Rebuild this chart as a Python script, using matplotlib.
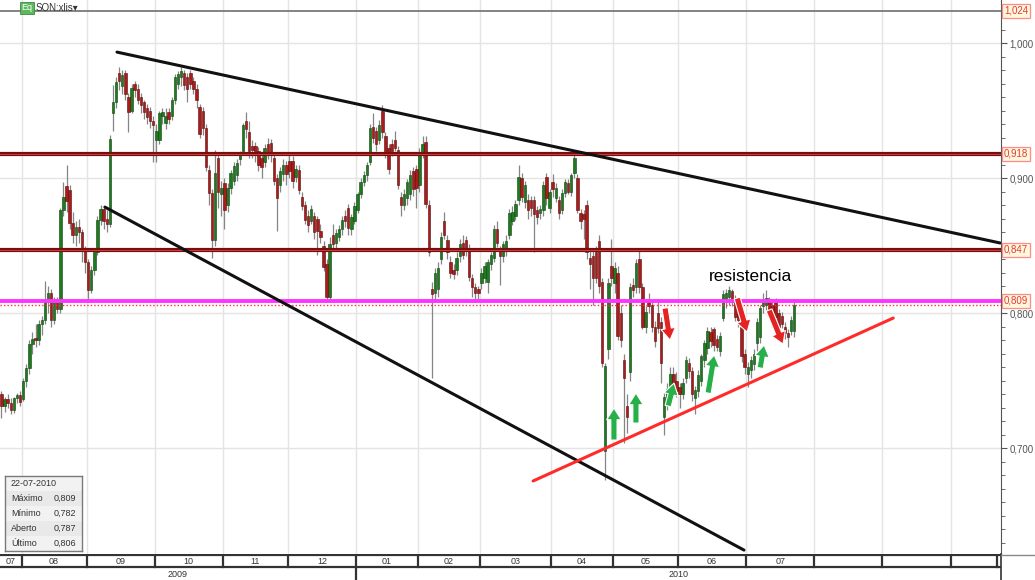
"""SON:xlis daily candles with hand-drawn trend lines and support/resistance levels."""

import matplotlib
matplotlib.use("Agg")
import matplotlib.pyplot as plt
import matplotlib.transforms as mtransforms
from matplotlib.patches import Rectangle
import numpy as np
import pandas as pd

plt.rcParams["font.family"] = ["Liberation Sans", "DejaVu Sans"]

# daily (open, high, low, close), one list per month
jul09 = [(0.740, 0.742, 0.722, 0.731), (0.731, 0.738, 0.727, 0.736), (0.736, 0.740, 0.730, 0.733),
         (0.733, 0.737, 0.725, 0.728), (0.728, 0.738, 0.726, 0.737), (0.737, 0.741, 0.733, 0.739),
         (0.739, 0.742, 0.731, 0.734)]
aug09 = [(0.736, 0.752, 0.735, 0.750), (0.750, 0.762, 0.745, 0.759), (0.759, 0.780, 0.755, 0.777),
         (0.777, 0.786, 0.770, 0.781), (0.781, 0.792, 0.775, 0.780), (0.780, 0.795, 0.776, 0.792),
         (0.792, 0.798, 0.784, 0.795), (0.795, 0.824, 0.792, 0.808), (0.808, 0.820, 0.800, 0.815),
         (0.815, 0.818, 0.790, 0.795), (0.795, 0.812, 0.792, 0.808), (0.808, 0.812, 0.800, 0.803),
         (0.803, 0.878, 0.800, 0.876), (0.876, 0.897, 0.872, 0.886), (0.894, 0.910, 0.875, 0.883),
         (0.891, 0.895, 0.862, 0.867), (0.867, 0.875, 0.852, 0.858), (0.858, 0.868, 0.850, 0.864),
         (0.864, 0.870, 0.852, 0.860), (0.860, 0.862, 0.838, 0.847), (0.847, 0.850, 0.830, 0.838)]
sep09 = [(0.838, 0.840, 0.808, 0.817), (0.817, 0.835, 0.815, 0.832), (0.832, 0.848, 0.828, 0.845),
         (0.845, 0.872, 0.843, 0.869), (0.869, 0.880, 0.865, 0.877), (0.877, 0.879, 0.862, 0.868),
         (0.870, 0.876, 0.860, 0.866), (0.866, 0.932, 0.864, 0.929), (0.948, 0.969, 0.935, 0.956),
         (0.956, 0.975, 0.952, 0.971), (0.978, 0.982, 0.965, 0.972), (0.968, 0.980, 0.962, 0.976),
         (0.978, 0.980, 0.958, 0.962), (0.960, 0.963, 0.934, 0.949), (0.950, 0.970, 0.948, 0.967),
         (0.970, 0.972, 0.960, 0.965), (0.966, 0.970, 0.955, 0.958), (0.960, 0.963, 0.948, 0.954),
         (0.956, 0.958, 0.944, 0.949), (0.952, 0.955, 0.940, 0.945), (0.950, 0.953, 0.937, 0.942),
         (0.942, 0.946, 0.912, 0.939)]
oct09 = [(0.928, 0.940, 0.912, 0.935), (0.928, 0.950, 0.925, 0.948), (0.946, 0.952, 0.940, 0.949),
         (0.941, 0.952, 0.936, 0.946), (0.949, 0.952, 0.940, 0.944), (0.946, 0.960, 0.943, 0.958),
         (0.958, 0.977, 0.955, 0.975), (0.970, 0.979, 0.966, 0.977), (0.975, 0.982, 0.968, 0.979),
         (0.978, 0.980, 0.965, 0.969), (0.975, 0.978, 0.956, 0.966), (0.978, 0.980, 0.966, 0.970),
         (0.972, 0.975, 0.962, 0.966), (0.966, 0.970, 0.952, 0.958), (0.953, 0.955, 0.930, 0.933),
         (0.950, 0.953, 0.932, 0.937), (0.937, 0.940, 0.905, 0.908), (0.906, 0.910, 0.880, 0.889),
         (0.889, 0.892, 0.841, 0.854), (0.854, 0.921, 0.850, 0.904), (0.915, 0.918, 0.878, 0.890),
         (0.888, 0.898, 0.872, 0.893)]
nov09 = [(0.896, 0.900, 0.862, 0.876), (0.880, 0.896, 0.875, 0.893), (0.893, 0.906, 0.888, 0.904),
         (0.898, 0.912, 0.895, 0.909), (0.902, 0.914, 0.898, 0.911), (0.914, 0.920, 0.910, 0.918),
         (0.920, 0.941, 0.918, 0.939), (0.942, 0.949, 0.930, 0.936), (0.934, 0.942, 0.915, 0.920),
         (0.924, 0.928, 0.915, 0.921), (0.924, 0.927, 0.912, 0.918), (0.920, 0.923, 0.905, 0.910),
         (0.915, 0.918, 0.900, 0.908), (0.912, 0.925, 0.908, 0.922), (0.925, 0.930, 0.914, 0.918),
         (0.926, 0.929, 0.912, 0.917), (0.915, 0.918, 0.895, 0.898), (0.900, 0.903, 0.861, 0.885),
         (0.895, 0.908, 0.890, 0.905), (0.903, 0.914, 0.898, 0.910), (0.910, 0.913, 0.895, 0.903)]
dec09 = [(0.913, 0.919, 0.900, 0.905), (0.913, 0.916, 0.893, 0.898), (0.901, 0.910, 0.897, 0.907),
         (0.906, 0.910, 0.888, 0.891), (0.886, 0.890, 0.876, 0.879), (0.880, 0.883, 0.866, 0.869),
         (0.872, 0.876, 0.860, 0.865), (0.868, 0.880, 0.866, 0.877), (0.872, 0.875, 0.855, 0.860),
         (0.870, 0.872, 0.843, 0.861), (0.861, 0.866, 0.852, 0.856), (0.850, 0.853, 0.831, 0.834),
         (0.836, 0.840, 0.809, 0.812), (0.812, 0.856, 0.810, 0.851), (0.858, 0.866, 0.848, 0.851),
         (0.852, 0.862, 0.848, 0.859), (0.856, 0.865, 0.853, 0.862), (0.862, 0.872, 0.858, 0.869),
         (0.872, 0.876, 0.864, 0.868), (0.878, 0.881, 0.858, 0.863), (0.862, 0.873, 0.858, 0.871),
         (0.868, 0.882, 0.866, 0.879)]
jan10 = [(0.876, 0.890, 0.874, 0.888), (0.888, 0.900, 0.885, 0.897), (0.897, 0.905, 0.894, 0.902),
         (0.902, 0.912, 0.898, 0.910), (0.912, 0.940, 0.910, 0.937), (0.938, 0.948, 0.926, 0.930),
         (0.935, 0.938, 0.920, 0.925), (0.928, 0.943, 0.925, 0.939), (0.950, 0.954, 0.930, 0.934),
         (0.931, 0.934, 0.915, 0.918), (0.922, 0.925, 0.903, 0.907), (0.925, 0.929, 0.916, 0.920),
         (0.928, 0.935, 0.920, 0.922), (0.921, 0.924, 0.892, 0.895), (0.886, 0.890, 0.872, 0.880),
         (0.880, 0.892, 0.876, 0.888), (0.885, 0.899, 0.880, 0.897), (0.888, 0.906, 0.884, 0.902),
         (0.905, 0.908, 0.887, 0.892), (0.907, 0.910, 0.878, 0.893)]
feb10 = [(0.895, 0.922, 0.890, 0.919), (0.919, 0.931, 0.915, 0.925), (0.927, 0.931, 0.878, 0.881),
         (0.880, 0.884, 0.842, 0.845), (0.818, 0.823, 0.752, 0.814), (0.815, 0.833, 0.810, 0.830),
         (0.818, 0.838, 0.812, 0.833), (0.840, 0.860, 0.836, 0.856), (0.868, 0.875, 0.855, 0.858),
         (0.854, 0.858, 0.840, 0.845), (0.838, 0.842, 0.826, 0.830), (0.832, 0.836, 0.825, 0.829),
         (0.832, 0.845, 0.828, 0.841), (0.842, 0.855, 0.838, 0.851), (0.852, 0.858, 0.840, 0.843),
         (0.854, 0.857, 0.842, 0.846), (0.848, 0.851, 0.824, 0.827), (0.826, 0.829, 0.812, 0.819),
         (0.819, 0.822, 0.810, 0.815), (0.818, 0.820, 0.809, 0.815)]
mar10 = [(0.822, 0.833, 0.818, 0.830), (0.826, 0.838, 0.822, 0.835), (0.823, 0.840, 0.815, 0.838),
         (0.836, 0.845, 0.832, 0.843), (0.841, 0.865, 0.838, 0.862), (0.862, 0.868, 0.849, 0.852),
         (0.847, 0.850, 0.821, 0.842), (0.842, 0.853, 0.838, 0.851), (0.846, 0.858, 0.842, 0.853),
         (0.858, 0.877, 0.855, 0.874), (0.868, 0.879, 0.865, 0.875), (0.872, 0.884, 0.869, 0.881),
         (0.884, 0.910, 0.880, 0.901), (0.900, 0.904, 0.882, 0.886), (0.882, 0.898, 0.878, 0.895),
         (0.884, 0.888, 0.870, 0.876), (0.884, 0.887, 0.872, 0.878), (0.884, 0.887, 0.845, 0.873),
         (0.876, 0.879, 0.866, 0.871), (0.874, 0.880, 0.870, 0.877), (0.876, 0.898, 0.872, 0.895),
         (0.901, 0.904, 0.880, 0.885), (0.878, 0.892, 0.874, 0.890)]
apr10 = [(0.897, 0.903, 0.886, 0.892), (0.885, 0.896, 0.882, 0.893), (0.884, 0.887, 0.870, 0.874),
         (0.876, 0.892, 0.873, 0.889), (0.889, 0.899, 0.886, 0.897), (0.896, 0.899, 0.888, 0.890),
         (0.890, 0.904, 0.887, 0.902), (0.904, 0.920, 0.900, 0.915), (0.900, 0.903, 0.874, 0.876),
         (0.874, 0.877, 0.862, 0.868), (0.873, 0.876, 0.855, 0.870), (0.880, 0.884, 0.840, 0.845),
         (0.841, 0.847, 0.818, 0.836), (0.842, 0.846, 0.806, 0.826), (0.845, 0.850, 0.822, 0.826),
         (0.853, 0.858, 0.815, 0.820), (0.823, 0.826, 0.760, 0.763), (0.698, 0.763, 0.676, 0.761),
         (0.773, 0.826, 0.766, 0.822), (0.835, 0.855, 0.820, 0.826)]
may10 = [(0.822, 0.838, 0.815, 0.833), (0.830, 0.835, 0.780, 0.783), (0.800, 0.806, 0.775, 0.780),
         (0.765, 0.770, 0.704, 0.752), (0.731, 0.740, 0.711, 0.723), (0.756, 0.822, 0.750, 0.819),
         (0.821, 0.826, 0.812, 0.817), (0.819, 0.840, 0.815, 0.837), (0.840, 0.847, 0.815, 0.819),
         (0.819, 0.822, 0.788, 0.790), (0.790, 0.805, 0.785, 0.801), (0.810, 0.815, 0.800, 0.805),
         (0.806, 0.810, 0.786, 0.790), (0.790, 0.794, 0.775, 0.779), (0.800, 0.808, 0.785, 0.789),
         (0.793, 0.797, 0.748, 0.763), (0.723, 0.741, 0.710, 0.738), (0.733, 0.748, 0.728, 0.744),
         (0.746, 0.760, 0.742, 0.755), (0.755, 0.760, 0.744, 0.748), (0.750, 0.756, 0.738, 0.742)]
jun10 = [(0.745, 0.748, 0.730, 0.740), (0.740, 0.752, 0.736, 0.748), (0.752, 0.768, 0.748, 0.765),
         (0.763, 0.767, 0.752, 0.757), (0.757, 0.760, 0.735, 0.740), (0.737, 0.746, 0.725, 0.743),
         (0.742, 0.758, 0.738, 0.754), (0.750, 0.770, 0.746, 0.768), (0.765, 0.780, 0.760, 0.778),
         (0.774, 0.790, 0.770, 0.787), (0.786, 0.790, 0.775, 0.779), (0.788, 0.790, 0.772, 0.776),
         (0.781, 0.784, 0.772, 0.775), (0.772, 0.786, 0.768, 0.783), (0.796, 0.817, 0.794, 0.814),
         (0.808, 0.818, 0.804, 0.815), (0.812, 0.820, 0.806, 0.817), (0.816, 0.818, 0.805, 0.808),
         (0.810, 0.813, 0.794, 0.797), (0.799, 0.802, 0.790, 0.795), (0.790, 0.794, 0.764, 0.768),
         (0.770, 0.773, 0.755, 0.760)]
jul10 = [(0.755, 0.764, 0.745, 0.760), (0.758, 0.768, 0.752, 0.765), (0.762, 0.773, 0.758, 0.770),
         (0.778, 0.796, 0.772, 0.793), (0.782, 0.806, 0.778, 0.804), (0.805, 0.815, 0.800, 0.810),
         (0.806, 0.817, 0.802, 0.811), (0.809, 0.812, 0.800, 0.803), (0.806, 0.809, 0.790, 0.794),
         (0.808, 0.811, 0.793, 0.797), (0.800, 0.803, 0.786, 0.790), (0.798, 0.801, 0.789, 0.792),
         (0.790, 0.793, 0.781, 0.785), (0.785, 0.788, 0.775, 0.782), (0.787, 0.798, 0.784, 0.795),
         (0.787, 0.809, 0.782, 0.806)]

holidays = ["2009-12-25", "2010-01-01", "2010-04-02", "2010-04-05"]
month_labels = ["07", "08", "09", "10", "11", "12", "01", "02", "03", "04", "05", "06", "07", "", "", ""]

levels = [1.024, 0.918, 0.847, 0.809]
last_price = 0.806
# trend lines as (day index, price) end points
upper_line = [(37.3, 0.9933), (322.5, 0.8519)]
lower_line = [(33.4, 0.8785), (239.8, 0.6244)]
support_line = [(171.7, 0.6756), (288.0, 0.7963)]
up_arrows = [((197.8, 0.7059), (197.8, 0.7296)), ((204.9, 0.7185), (204.9, 0.7407)),
             ((215.3, 0.7311), (217.2, 0.7481)), ((228.2, 0.7407), (230.2, 0.7689)),
             ((245.0, 0.7593), (246.3, 0.7763))]
down_arrows = [((214.3, 0.8037), (215.9, 0.7800)), ((237.6, 0.8111), (240.8, 0.7859)),
               ((247.9, 0.8022), (252.4, 0.7770))]

info_rows = [("22-07-2010", ""), ("Máximo", "0,809"), ("Mínimo", "0,782"),
             ("Aberto", "0,787"), ("Último", "0,806")]

rows = jul09 + aug09 + sep09 + oct09 + nov09 + dec09 + jan10 + feb10 + mar10 + apr10 + may10 + jun10 + jul10
ohlc = np.array(rows)
o, h, l, c = ohlc.T
idx = np.arange(len(ohlc))

days = pd.bdate_range("2009-07-23", "2010-10-21")
days = days[~days.isin(pd.to_datetime(holidays))]
month_start = [0] + [i for i in range(1, len(days)) if days[i].month != days[i - 1].month]
bounds = [b - 0.5 for b in month_start] + [len(days) - 0.5]

W, H = 1035, 580
fig = plt.figure(figsize=(W / 100, H / 100), dpi=100)
fig.patch.set_facecolor("white")
x0, x1 = -0.48, 322.8
ax = fig.add_axes([0, 26 / H, 1001 / W, 554 / H])
ax.set_xlim(x0, x1)
ax.set_ylim(0.6215, 1.0319)
for s in ["left", "top", "bottom"]:
    ax.spines[s].set_visible(False)
ax.spines["right"].set_color("#555555")
ax.yaxis.tick_right()
ax.set_yticks([0.7, 0.8, 0.9, 1.0])
ax.set_yticklabels(["0,700", "0,800", "0,900", "1,000"])
ax.set_yticks(np.arange(0.63, 1.03, 0.01), minor=True)
ax.tick_params(axis="y", which="major", length=4, color="#555555", labelcolor="#555555",
               labelsize=7, pad=2)
ax.tick_params(axis="y", which="minor", length=3, color="#555555")
ax.set_xticks([])

# grid
for b in bounds[1:-1]:
    ax.axvline(b, color="#e4e4e4", lw=1, zorder=0)
for v in [0.7, 0.8, 0.9, 1.0]:
    ax.axhline(v, color="#e4e4e4", lw=1, zorder=0)

# candles
up = c >= o
ax.vlines(idx, l, h, color="#858585", lw=0.9, zorder=2)
body = np.maximum(np.abs(c - o), 0.0015)
ax.bar(idx[up], body[up], bottom=o[up], width=0.78, color="#1f7a1f", edgecolor="#0f420f",
       lw=0.4, zorder=3)
ax.bar(idx[~up], body[~up], bottom=c[~up], width=0.78, color="#a81c1c", edgecolor="#5c0b0b",
       lw=0.4, zorder=3)

# levels
ax.axhline(levels[0], color="#7a7a7a", lw=1.3, zorder=4)
for v in levels[1:3]:
    ax.axhline(v, color="#7d0c0c", lw=3, zorder=4)
    ax.axhline(v, color="#c25050", lw=0.6, zorder=4)
ax.axhline(levels[3], color="#ff33ff", lw=2.8, zorder=4)
ax.axhline(last_price, color="#ff3030", lw=1, ls=(0, (1, 1.5)), zorder=4)

# trend lines
for line, col, lw in [(upper_line, "#111111", 2.2), (lower_line, "#111111", 2.2),
                      (support_line, "#ff2a2a", 2.2)]:
    xs, ys = zip(*line)
    ax.plot(xs, ys, color=col, lw=lw, solid_capstyle="round", zorder=5)

for arrows, col in [(up_arrows, "#27b04a"), (down_arrows, "#e52323")]:
    for tail, head in arrows:
        ax.annotate("", xy=head, xytext=tail, zorder=6,
                    arrowprops=dict(arrowstyle="simple,head_width=0.75,head_length=0.6,tail_width=0.32",
                                    mutation_scale=14, fc=col, ec="white", lw=0.8,
                                    shrinkA=0, shrinkB=0))

ax.text(241.8, 0.8274, "resistencia", fontsize=12.5, ha="center", va="center", color="black", zorder=6)

# price boxes on the right
trans = mtransforms.blended_transform_factory(ax.transAxes, ax.transData)
for v in levels:
    ax.text(1.003, v, f"{v:.3f}".replace(".", ","), transform=trans, fontsize=7, color="#e23a3a",
            ha="left", va="center", zorder=7, clip_on=False,
            bbox=dict(boxstyle="square,pad=0.2", fc="#fff7dc", ec="#ff8a8a", lw=0.9))

# month / year band
band = fig.add_axes([0, 0, 1001 / W, 26 / H])
band.set_xlim(x0, x1)
band.set_ylim(0, 2)
band.set_xticks([])
band.set_yticks([])
for s in ["left", "top", "bottom"]:
    band.spines[s].set_visible(False)
band.spines["right"].set_color("#333333")
band.spines["right"].set_linewidth(1.2)
band.axhline(1.93, color="#333333", lw=1.6)
band.axhline(1.0, color="#333333", lw=1.6)
for b in bounds[1:]:
    band.plot([b, b], [1.0, 1.93], color="#333333", lw=1.6)
for i, lab in enumerate(month_labels):
    band.text((bounds[i] + bounds[i + 1]) / 2, 1.45, lab, ha="center", va="center", fontsize=6.5,
              color="#333333")
jan_b = bounds[month_labels.index("01")]
band.plot([jan_b, jan_b], [0, 1.0], color="#333333", lw=1.6)
band.text((x0 + jan_b) / 2, 0.45, "2009", ha="center", va="center", fontsize=6.5, color="#333333")
band.text((jan_b + x1) / 2, 0.45, "2010", ha="center", va="center", fontsize=6.5, color="#333333")
fig.add_artist(plt.Line2D([1001 / W, 1], [25 / H, 25 / H], color="#888888", lw=1))

# info box
ib = fig.add_axes([5 / W, 29 / H, 77 / W, 75 / H])
ib.set_xlim(0, 77)
ib.set_ylim(75, 0)
ib.set_xticks([])
ib.set_yticks([])
for s in ib.spines.values():
    s.set_color("#7a7a7a")
    s.set_linewidth(1)
for k, (lab, val) in enumerate(info_rows):
    ib.add_patch(Rectangle((0, k * 15), 77, 15, fc="#f2f2f2" if k % 2 == 0 else "#e9e9e9", ec="none"))
    ib.text(6, k * 15 + 7.8, lab, fontsize=6.5, color="#333333", va="center")
    ib.text(71, k * 15 + 7.8, val, fontsize=6.5, color="#333333", va="center", ha="right")

# instrument tag
fig.text(27 / W, 1 - 8 / H, "Eq", fontsize=6.5, color="white", ha="center", va="center",
         bbox=dict(boxstyle="square,pad=0.2", fc="#5cb85c", ec="#3d8b3d", lw=0.6))
fig.text(36 / W, 1 - 8 / H, "SON:xlis\u25be", fontsize=7, color="#333333", ha="left", va="center")

fig.savefig("out.png", dpi=100)
